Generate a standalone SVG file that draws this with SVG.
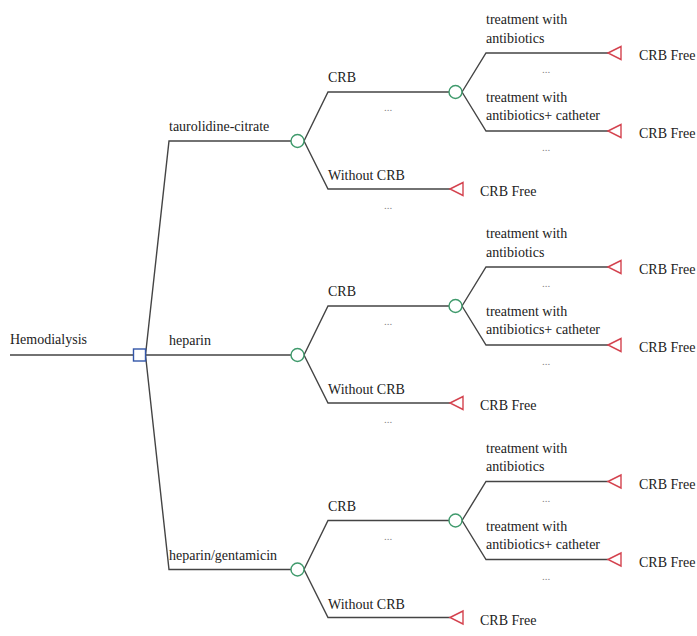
<svg xmlns="http://www.w3.org/2000/svg" width="697" height="636" viewBox="0 0 697 636">
<defs>
<style>
.ln{fill:none;stroke:#444;stroke-width:1.4}
.ch{fill:#fff;stroke:#3f9a6c;stroke-width:1.4}
.tm{fill:#fff;stroke:#d4434f;stroke-width:1.4}
.dc{fill:#fff;stroke:#3356a8;stroke-width:1.4}
text{font-family:"Liberation Serif","Times New Roman",serif;font-size:14px;fill:#222}
.d{font-size:11px;fill:#888;text-anchor:middle}
</style>
<polygon id="tri" class="tm" points="0,0 13,-6.5 13,6.5"/>
<g id="sub">
<path class="ln" d="M304,141 L328,92 L449,92 M304,141 L328,189 L450,189 M462,92 L486,53 L608,53 M462,92 L486,131 L608,131"/>
</g>
</defs>
<rect width="697" height="636" fill="#fff"/>
<g id="connectors">
<path class="ln" d="M10,355 L133.5,355 M145.5,355 L169,141 L291,141 M145.5,355 L291,355 M145.5,355 L169,569.5 L291,569.5"/>
<use href="#sub"/>
<use href="#sub" y="214"/>
<use href="#sub" y="428.5"/>
</g>
<g id="root"><text x="10" y="344">Hemodialysis</text></g>
<g id="decision"><rect class="dc" x="133.5" y="349" width="12" height="12"/></g>
<g id="branch1">
<text x="169" y="131">taurolidine-citrate</text>
<g id="c1"><circle class="ch" cx="297.5" cy="141" r="6.5"/></g>
<text x="328" y="82">CRB</text>
<text class="d" x="388" y="111">...</text>
<text x="328" y="180">Without CRB</text>
<text class="d" x="388" y="209">...</text>
<g id="c1a"><circle class="ch" cx="455.5" cy="92" r="6.5"/></g>
<text x="486" y="24">treatment with</text>
<text x="486" y="42.5">antibiotics</text>
<text class="d" x="546" y="73">...</text>
<text x="486" y="102">treatment with</text>
<text x="486" y="120">antibiotics+ catheter</text>
<text class="d" x="546" y="151">...</text>
<g id="t1a"><use href="#tri" x="608" y="53"/><text x="639" y="60">CRB Free</text></g>
<g id="t1b"><use href="#tri" x="608" y="131"/><text x="639" y="138">CRB Free</text></g>
<g id="t1c"><use href="#tri" x="450" y="189"/><text x="480" y="196">CRB Free</text></g>
</g>
<g id="branch2">
<text x="169" y="345">heparin</text>
<g id="c2"><circle class="ch" cx="297.5" cy="355" r="6.5"/></g>
<text x="328" y="296">CRB</text>
<text class="d" x="388" y="325">...</text>
<text x="328" y="394">Without CRB</text>
<text class="d" x="388" y="423">...</text>
<g id="c2a"><circle class="ch" cx="455.5" cy="306" r="6.5"/></g>
<text x="486" y="238">treatment with</text>
<text x="486" y="256.5">antibiotics</text>
<text class="d" x="546" y="287">...</text>
<text x="486" y="316">treatment with</text>
<text x="486" y="334">antibiotics+ catheter</text>
<text class="d" x="546" y="365">...</text>
<g id="t2a"><use href="#tri" x="608" y="267"/><text x="639" y="274">CRB Free</text></g>
<g id="t2b"><use href="#tri" x="608" y="345"/><text x="639" y="352">CRB Free</text></g>
<g id="t2c"><use href="#tri" x="450" y="403"/><text x="480" y="410">CRB Free</text></g>
</g>
<g id="branch3">
<text x="169" y="559.5">heparin/gentamicin</text>
<g id="c3"><circle class="ch" cx="297.5" cy="569.5" r="6.5"/></g>
<text x="328" y="510.5">CRB</text>
<text class="d" x="388" y="539.5">...</text>
<text x="328" y="608.5">Without CRB</text>
<g id="c3a"><circle class="ch" cx="455.5" cy="520.5" r="6.5"/></g>
<text x="486" y="452.5">treatment with</text>
<text x="486" y="471">antibiotics</text>
<text class="d" x="546" y="501.5">...</text>
<text x="486" y="530.5">treatment with</text>
<text x="486" y="548.5">antibiotics+ catheter</text>
<text class="d" x="546" y="579.5">...</text>
<g id="t3a"><use href="#tri" x="608" y="481.5"/><text x="639" y="488.5">CRB Free</text></g>
<g id="t3b"><use href="#tri" x="608" y="559.5"/><text x="639" y="566.5">CRB Free</text></g>
<g id="t3c"><use href="#tri" x="450" y="617.5"/><text x="480" y="624.5">CRB Free</text></g>
</g>
</svg>
